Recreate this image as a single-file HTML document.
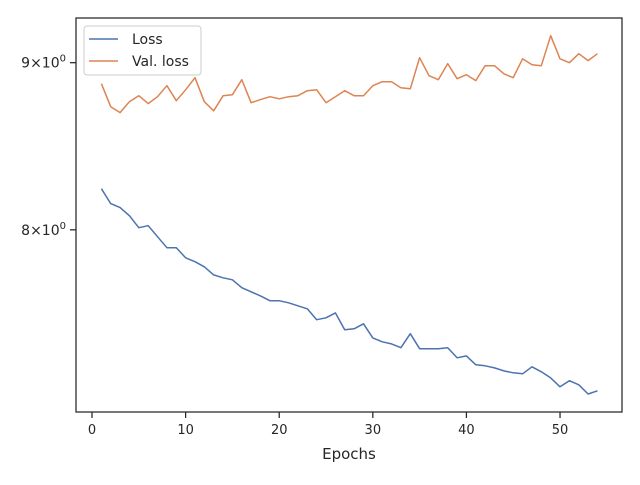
<!DOCTYPE html>
<html><head><meta charset="utf-8"><style>
body{margin:0;background:#fff;}
svg{font-family:"DejaVu Sans","Liberation Sans",sans-serif;}
</style></head><body>
<svg id="chart" width="640" height="480" viewBox="0 0 640 480">
<rect x="0" y="0" width="640" height="480" fill="#fff"/>
<g id="plot"></g>
</svg>
<script>
const epochs = Array.from({length:54},(_,i)=>i+1);
const lossValues = [8.235,8.149,8.126,8.080,8.012,8.023,7.961,7.900,7.900,7.844,7.822,7.794,7.750,7.734,7.723,7.680,7.658,7.636,7.610,7.610,7.599,7.583,7.567,7.509,7.519,7.545,7.456,7.461,7.487,7.413,7.393,7.382,7.362,7.435,7.357,7.357,7.357,7.362,7.310,7.320,7.274,7.269,7.258,7.243,7.233,7.228,7.264,7.238,7.207,7.162,7.193,7.172,7.126,7.142];
const valLossValues = [8.868,8.725,8.689,8.756,8.793,8.744,8.787,8.855,8.762,8.830,8.905,8.756,8.700,8.793,8.799,8.893,8.750,8.769,8.787,8.774,8.787,8.793,8.824,8.830,8.750,8.787,8.824,8.793,8.793,8.855,8.880,8.880,8.843,8.836,9.032,8.918,8.893,8.994,8.899,8.924,8.887,8.981,8.981,8.930,8.905,9.025,8.987,8.981,9.173,9.025,9.000,9.057,9.013,9.057];
const xTicks = [0,10,20,30,40,50];
const yTicks = [8,9];
const yTickLabels = ["8","9"];

const L=76,R=622,T=18,B=412;
const xMin=-1.71,xMax=56.62,yMin=7.036,yMax=9.288;
const xs=v=>L+(v-xMin)/(xMax-xMin)*(R-L);
const ys=v=>B-(Math.log(v)-Math.log(yMin))/(Math.log(yMax)-Math.log(yMin))*(B-T);
const NS="http://www.w3.org/2000/svg";
const g=document.getElementById('plot');
function mk(tag,attrs,parent){const e=document.createElementNS(NS,tag);for(const k in attrs)e.setAttribute(k,attrs[k]);(parent||g).appendChild(e);return e;}

function line(vals,color,name){
  const d=vals.map((v,i)=>(i?'L':'M')+xs(epochs[i]).toFixed(1)+','+ys(v).toFixed(1)).join('');
  const p=mk('path',{d:d,fill:'none',stroke:color,'stroke-width':1.5,'stroke-linejoin':'round'});
  
  
}
line(lossValues,'#4c72b0','loss-line');
line(valLossValues,'#dd8452','val-loss-line');

// frame
const fr=mk('rect',{x:L,y:T,width:R-L,height:B-T,fill:'none',stroke:'#262626','stroke-width':1.25});



xTicks.forEach(t=>{
  const x=xs(t);
  mk('line',{x1:x,x2:x,y1:B,y2:B+6,stroke:'#262626','stroke-width':1.25});
  const tx=mk('text',{x:x,y:B+22,'text-anchor':'middle','font-size':13,fill:'#262626'});
  tx.textContent=t;
  
  
});
yTicks.forEach((t,i)=>{
  const y=ys(t);
  mk('line',{x1:L-6,x2:L,y1:y,y2:y,stroke:'#262626','stroke-width':1.25});
  const tx=mk('text',{x:L-10,y:y+5,'text-anchor':'end','font-size':14,fill:'#262626'});
  tx.innerHTML=yTickLabels[i]+'\u00d710<tspan dy="-6" font-size="10">0</tspan>';
  
  
});
const xl=mk('text',{x:(L+R)/2,y:459,'text-anchor':'middle','font-size':15,fill:'#262626'});
xl.textContent='Epochs';



// legend
const lg=mk('g',{});


mk('rect',{x:84,y:26,width:117,height:49,rx:3,fill:'#fff','fill-opacity':0.85,stroke:'#ccc'},lg);
[['Loss','#4c72b0',39],['Val. loss','#dd8452',61]].forEach(([n,c,y])=>{
  mk('line',{x1:89,x2:118,y1:y,y2:y,stroke:c,'stroke-width':1.5},lg);
  const t=mk('text',{x:132,y:y+5,'font-size':14,fill:'#262626'},lg);
  t.textContent=n;
  
  
});
</script>
</body></html>
